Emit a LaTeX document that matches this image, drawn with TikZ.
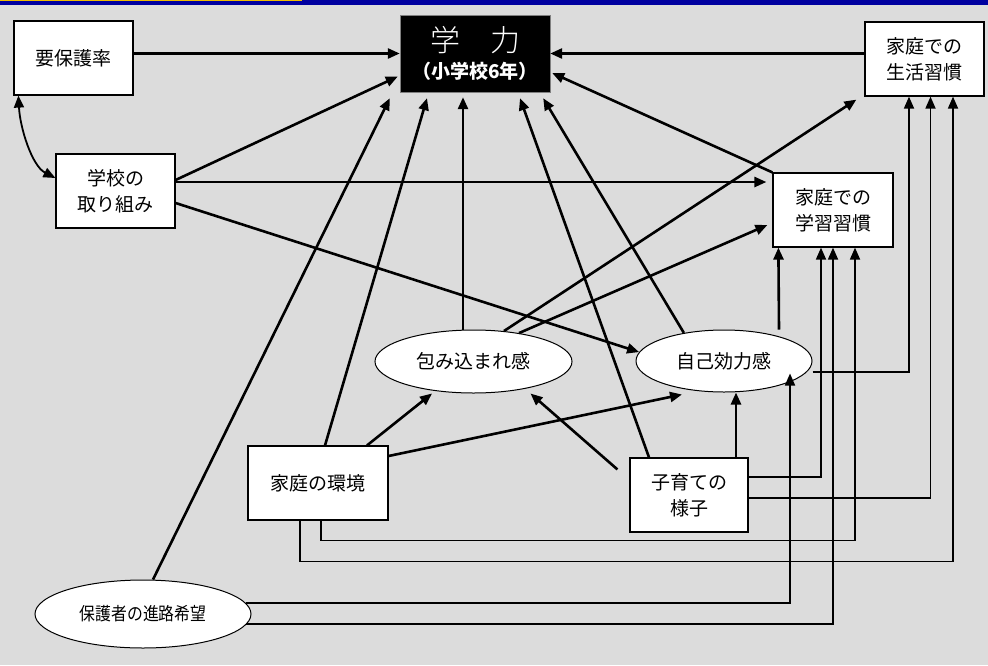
\documentclass[tikz,border=0pt]{standalone}
\usepackage{fontspec}
\setmainfont{Noto Sans CJK JP}
\newfontfamily\narrowjp{Noto Sans CJK JP}[FakeStretch=0.88]
\newfontfamily\thinjp{Noto Sans CJK JP Light}
\usetikzlibrary{shapes.geometric,arrows.meta}
\definecolor{bg}{RGB}{220,220,220}
\definecolor{topblue}{RGB}{0,0,160}
\definecolor{topyellow}{RGB}{240,190,0}

\begin{document}
\begin{tikzpicture}[x=1pt, y=-1pt,
    >={Triangle[length=12pt,width=10pt]},
    box/.style={draw, line width=1.2pt, fill=white, align=center, inner sep=0pt,
        minimum width=119pt, minimum height=74pt, font=\fontsize{19}{26}\selectfont},
    oval/.style={draw, ellipse, line width=1pt, fill=white, inner sep=0pt,
        font=\fontsize{19}{26}\selectfont},
    arr/.style={line width=2.6pt, ->},
    link/.style={line width=1.7pt, ->}]
    \useasboundingbox (0,0) rectangle (988,665);
    \fill[bg] (0,0) rectangle (988,665);
    \fill[topblue] (0,0) rectangle (988,4.5);
    \fill[topyellow] (0,0) rectangle (302,1.2);

    \node[box] (yohogo) at (73.5,58) {要保護率};
    \node[box] (torikumi) at (115.5,191) {学校の\\取り組み};
    \node[draw=gray, fill=black, text=white, align=center, inner sep=0pt,
        minimum width=150pt, minimum height=77pt] (gakuryoku) at (475,53.5)
        {{\fontsize{30}{34}\thinjp 学　力}\\[8pt]{\fontsize{19}{22}\selectfont\bfseries （小学校6年）}};
    \node[box] (seikatsu) at (924.5,59) {家庭での\\生活習慣};
    \node[box, minimum width=120pt] (gakushu) at (833,210) {家庭での\\学習習慣};
    \node[oval, minimum width=197pt, minimum height=63pt] (tsutsumi) at (473.5,361.5) {包み込まれ感};
    \node[oval, minimum width=176pt, minimum height=62pt] (jiko) at (724,361) {自己効力感};
    \node[box, minimum width=140pt] (katei) at (318,483) {家庭の環境};
    \node[box, minimum width=118pt] (kosodate) at (689,495) {子育ての\\様子};
    \node[oval, minimum width=216pt, minimum height=68pt, font=\fontsize{18}{22}\narrowjp] (shinro) at (143,614) {保護者の進路希望};
    \coordinate (tk) at ([shift={(0,-9)}]torikumi.east);

    \draw[arr] (yohogo.east |- gakuryoku.west) -- (gakuryoku.west);
    \draw[line width=1.8pt, <->] ([xshift=5pt]yohogo.south west) .. controls (20,128) and (32,166) .. ([shift={(0,-13)}]torikumi.west);
    \draw[arr] ([shift={(0,-11)}]torikumi.east) -- ([shift={(-2,23)}]gakuryoku.west);
    \draw[arr] (tk) -- ([xshift=-6pt]gakushu.west |- tk);
    \draw[arr] ([shift={(0,12)}]torikumi.east) -- (jiko.174);
    \draw[arr] (seikatsu.west |- gakuryoku.east) -- (gakuryoku.east);
    \draw[arr] (gakushu.north west) -- ([shift={(2,19.5)}]gakuryoku.east);
    \draw[arr] (tsutsumi.45) -- ([shift={(-8,3)}]seikatsu.south west);
    \draw[arr] (tsutsumi.32) -- ([shift={(-5,15)}]gakushu.west);
    \draw[arr] ([xshift=-10.5pt]tsutsumi.north) -- ([shift={(-12,5)}]gakuryoku.south);
    \draw[arr] (jiko.145) -- ([shift={(-7,6)}]gakuryoku.south east);
    \draw[arr] ([xshift=-40pt]kosodate.north) -- ([shift={(45,6)}]gakuryoku.south);
    \draw[arr] ([xshift=55pt]jiko.north) -- ([xshift=6pt]gakushu.south west);
    \draw[arr] ([xshift=47pt]kosodate.north) -- ([xshift=12pt]jiko.south);
    \draw[arr] ([shift={(-12,12)}]kosodate.north west) -- ([xshift=57pt]tsutsumi.south);
    \draw[arr] ([xshift=49pt]katei.north) -- ([xshift=-41.5pt]tsutsumi.south);
    \draw[arr] ([shift={(0,-27)}]katei.east) -- ([shift={(-42,2)}]jiko.south);
    \draw[arr] ([xshift=7pt]katei.north) -- ([shift={(-48,6)}]gakuryoku.south);
    \draw[arr] ([xshift=10pt]shinro.north) -- ([shift={(-10,6)}]gakuryoku.south west);

    \draw[link] ([shift={(0,11)}]jiko.east) -| ([xshift=-15.5pt]seikatsu.south);
    \draw[link] ([shift={(0,-18)}]kosodate.east) -| ([xshift=-12pt]gakushu.south);
    \draw[link] ([shift={(0,3)}]kosodate.east) -| ([xshift=6pt]seikatsu.south);
    \draw[link] ([xshift=3pt]katei.south) -- ++(0,20) -| ([xshift=22pt]gakushu.south);
    \draw[link] ([xshift=-18pt]katei.south) -- ++(0,41) -| ([xshift=28.5pt]seikatsu.south);
    \draw[link] ([shift={(-6,-11)}]shinro.east) -| ([shift={(66,-19)}]jiko.south);
    \draw[link] ([shift={(-6,10)}]shinro.east) -| (gakushu.south);
\end{tikzpicture}
\end{document}
